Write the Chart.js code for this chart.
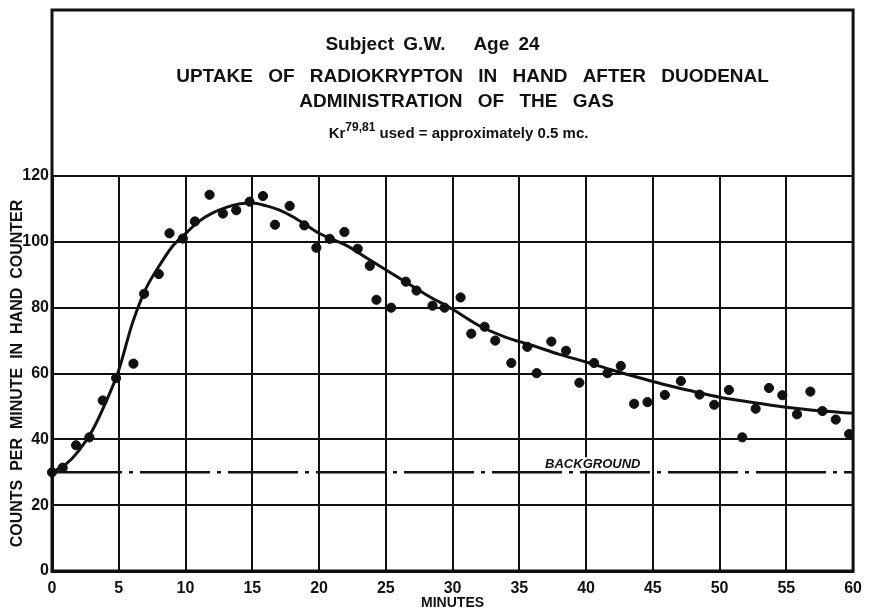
<!DOCTYPE html>
<html>
<head>
<meta charset="utf-8">
<script src="https://cdn.jsdelivr.net/npm/chart.js@4/dist/chart.umd.min.js"></script>
<style>
  body { margin: 0; background: #fff; }
  #wrap { width: 870px; height: 615px; }
</style>
</head>
<body>
<div id="wrap"><canvas id="uptakeChart" width="870" height="615"></canvas></div>
<script>
// measured counts (dots)
const obsMinutes = [0, 0.8, 1.8, 2.8, 3.8, 4.8, 6.1, 6.9, 8.0, 8.8, 9.8, 10.7, 11.8, 12.8, 13.8, 14.8,
    15.8, 16.7, 17.8, 18.9, 19.8, 20.8, 21.9, 22.9, 23.8, 24.3, 25.4, 26.5, 27.3, 28.5, 29.4, 30.6,
    31.4, 32.4, 33.2, 34.4, 35.6, 36.3, 37.4, 38.5, 39.5, 40.6, 41.6, 42.6, 43.6, 44.6, 45.9, 47.1,
    48.5, 49.6, 50.7, 51.7, 52.7, 53.7, 54.7, 55.8, 56.8, 57.7, 58.7, 59.7];
const obsCounts = [30, 31.4, 38.2, 40.6, 51.8, 58.6, 63, 84.2, 90.2, 102.6, 101, 106.2, 114.3, 108.6, 109.6, 112.2,
    113.9, 105.2, 110.9, 105, 98.2, 100.9, 103, 97.9, 92.7, 82.4, 80, 87.9, 85.2, 80.6, 80, 83.1,
    72.1, 74.2, 70, 63.2, 68.1, 60.1, 69.7, 66.9, 57.2, 63.2, 60.1, 62.3, 50.8, 51.3, 53.5, 57.7,
    53.6, 50.5, 55, 40.6, 49.3, 55.6, 53.4, 47.6, 54.5, 48.6, 46, 41.6];

// fitted curve
const curveMinutes = [0, 1, 2, 3, 4, 5, 6, 7, 8, 9, 10, 11, 12, 13, 14, 15, 16, 17, 18, 19, 20,
    22, 24, 26, 28, 30, 32, 34, 36, 38, 40, 42, 44, 46, 48, 50, 52, 54, 56, 58, 60];
const curveCounts = [30, 32.3, 36.5, 42.5, 51, 61, 75, 85.5, 92.5, 98.5, 102.5, 106.2, 108.7, 110.4, 111.5, 111.8, 111, 109.7, 107.7, 105.2, 102.6,
    99, 94, 89, 84, 79.5, 74.5, 71, 68.5, 65.8, 63.5, 61, 58.7, 56.5, 54.6, 52.8, 51.5, 50.3, 49.3, 48.5, 47.9];

const backgroundLevel = 30;
const xTicks = [0, 5, 10, 15, 20, 25, 30, 35, 40, 45, 50, 55, 60];
const yTicks = [0, 20, 40, 60, 80, 100, 120];

const ink = '#111';
const font = 'Liberation Sans, Arial, sans-serif';

const toPoints = (xs, ys) => xs.map((x, i) => ({ x: x, y: ys[i] }));

// frame round the title area + title lettering
const framePlugin = {
    id: 'frame',
    afterDraw(chart) {
        const { ctx, chartArea } = chart;
        const cx = (chartArea.left + chartArea.right) / 2;
        ctx.save();
        ctx.strokeStyle = ink;
        ctx.lineWidth = 3;
        ctx.strokeRect(chartArea.left, 10, chartArea.right - chartArea.left, chartArea.bottom - 10);

        ctx.fillStyle = ink;
        ctx.textAlign = 'center';
        ctx.textBaseline = 'middle';
        ctx.font = 'bold 19px ' + font;
        ctx.wordSpacing = '4px';
        ctx.fillText('Subject G.W.   Age 24', cx - 20, 45);
        ctx.wordSpacing = '10px';
        ctx.fillText('UPTAKE OF RADIOKRYPTON IN HAND AFTER DUODENAL', cx + 20, 77);
        ctx.fillText('ADMINISTRATION OF THE GAS', cx + 4, 102);

        // Kr 79,81 superscript line
        ctx.wordSpacing = '5px';
        ctx.textAlign = 'left';
        const big = 'bold 15px ' + font, small = 'bold 12px ' + font;
        const parts = [['Kr', big, 0], ['79,81', small, -6], [' used = approximately 0.5 mc.', big, 0]];
        let w = 0;
        parts.forEach(p => { ctx.font = p[1]; w += ctx.measureText(p[0]).width; });
        let x = cx + 6 - w / 2;
        parts.forEach(p => {
            ctx.font = p[1];
            ctx.fillText(p[0], x, 134 + p[2]);
            x += ctx.measureText(p[0]).width;
        });

        // background label
        const xs = chart.scales.x, ys = chart.scales.y;
        ctx.wordSpacing = '0px';
        ctx.textAlign = 'center';
        ctx.font = 'italic bold 13px ' + font;
        const lx = xs.getPixelForValue(40.5), ly = ys.getPixelForValue(backgroundLevel + 2.4);
        const lw = ctx.measureText('BACKGROUND').width;
        ctx.fillStyle = '#fff';
        ctx.fillRect(lx - lw / 2 - 2, ly - 7, lw + 4, 13);
        ctx.fillStyle = ink;
        ctx.fillText('BACKGROUND', lx, ly);
        ctx.restore();
    }
};

new Chart(document.getElementById('uptakeChart'), {
    type: 'scatter',
    data: {
        datasets: [
            {
                label: 'Fitted curve',
                data: toPoints(curveMinutes, curveCounts),
                showLine: true,
                borderColor: ink,
                borderWidth: 3,
                pointRadius: 0,
                cubicInterpolationMode: 'monotone',
                clip: false
            },
            {
                label: 'Counts',
                data: toPoints(obsMinutes, obsCounts),
                backgroundColor: ink,
                borderColor: ink,
                pointRadius: 4.6,
                pointHoverRadius: 4.6,
                clip: false
            },
            {
                label: 'Background',
                data: toPoints([0, 60], [backgroundLevel, backgroundLevel]),
                showLine: true,
                borderColor: ink,
                borderWidth: 2.5,
                borderDash: [70, 7, 4, 7],
                pointRadius: 0
            }
        ]
    },
    options: {
        responsive: false,
        animation: false,
        layout: { padding: { top: 176, right: 15, bottom: 0, left: 0 } },
        plugins: {
            legend: { display: false },
            tooltip: { enabled: false }
        },
        scales: {
            x: {
                type: 'linear',
                min: 0,
                max: 60,
                afterFit: (scale) => { scale.height = 44; },
                afterBuildTicks: (scale) => { scale.ticks = xTicks.map(v => ({ value: v })); },
                grid: { color: ink, lineWidth: 2, drawTicks: false },
                border: { color: ink, width: 3 },
                ticks: { color: ink, padding: 8, font: { family: font, weight: 'bold', size: 16 } },
                title: {
                    display: true,
                    text: 'MINUTES',
                    color: ink,
                    padding: { top: 0, bottom: 3 },
                    font: { family: font, weight: 'bold', size: 14 }
                }
            },
            y: {
                min: 0,
                max: 120,
                afterFit: (scale) => { scale.width = 52; },
                afterBuildTicks: (scale) => { scale.ticks = yTicks.map(v => ({ value: v })); },
                grid: { color: ink, lineWidth: 2, drawTicks: false },
                border: { color: ink, width: 3 },
                ticks: { color: ink, padding: 3, font: { family: font, weight: 'bold', size: 16 } },
                title: {
                    display: true,
                    text: 'COUNTS  PER  MINUTE  IN  HAND  COUNTER',
                    color: ink,
                    padding: { top: 8, bottom: 0 },
                    font: { family: font, weight: 'bold', size: 16 }
                }
            }
        }
    },
    plugins: [framePlugin]
});
</script>
</body>
</html>
